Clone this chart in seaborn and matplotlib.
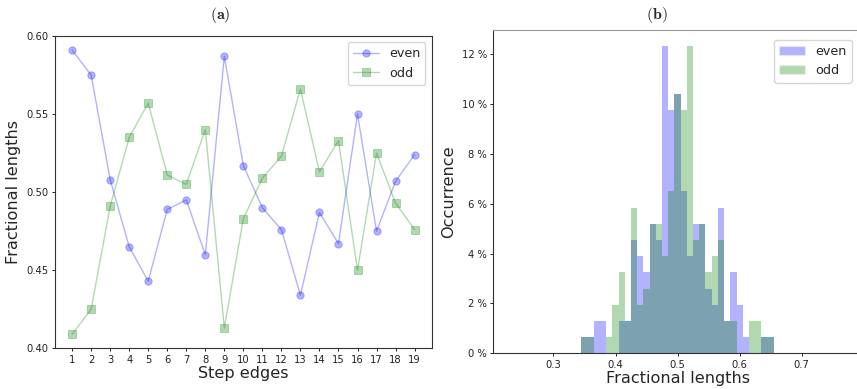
import numpy as np
import matplotlib
matplotlib.use("Agg")
import matplotlib.pyplot as plt
from matplotlib.patches import Patch
from matplotlib.ticker import FuncFormatter
import seaborn as sns

# ---- data ----
step_edges = [1, 2, 3, 4, 5, 6, 7, 8, 9, 10, 11, 12, 13, 14, 15, 16, 17, 18, 19]
even_vals = [0.591, 0.575, 0.508, 0.465, 0.443, 0.489, 0.495, 0.460, 0.587, 0.517,
             0.490, 0.476, 0.434, 0.487, 0.467, 0.550, 0.475, 0.507, 0.524]
odd_vals = [0.409, 0.425, 0.491, 0.535, 0.557, 0.511, 0.505, 0.540, 0.413, 0.483,
            0.509, 0.523, 0.566, 0.513, 0.533, 0.450, 0.525, 0.493, 0.476]

bin_centers = [0.35, 0.36, 0.37, 0.38, 0.39, 0.40, 0.41, 0.42, 0.43, 0.44, 0.45,
               0.46, 0.47, 0.48, 0.49, 0.50, 0.51, 0.52, 0.53, 0.54, 0.55, 0.56,
               0.57, 0.58, 0.59, 0.60, 0.61, 0.62, 0.63, 0.64, 0.65]
even_counts = [1, 1, 2, 2, 0, 0, 2, 2, 7, 6, 5, 8, 7, 19, 15, 16, 10, 6, 8, 8, 4,
               3, 9, 2, 5, 3, 1, 0, 0, 1, 1]
odd_counts = [1, 1, 0, 0, 1, 3, 5, 2, 9, 3, 4, 8, 8, 6, 10, 16, 15, 19, 7, 8, 5,
              6, 7, 2, 2, 0, 0, 2, 2, 1, 1]
bin_width = 0.01

sns.set_style("white")
plt.rcParams["font.family"] = ["DejaVu Sans"]
plt.rcParams["mathtext.fontset"] = "cm"

fig = plt.figure(figsize=(8.57, 3.89), dpi=100)
W, H = 857, 389

def axes_px(l, t, r, b):
    return fig.add_axes([l / W, 1 - b / H, (r - l) / W, (b - t) / H])

tick_fs = 7.2
label_fs = 11.6
legend_fs = 9.2
spine_col = "#333333"

# ---- (a) line plot ----
ax1 = axes_px(55, 36, 431.7, 348.3)
sns.lineplot(x=step_edges, y=even_vals, ax=ax1, color="b", alpha=0.3, marker="o",
             markersize=5.3, mec="b", mew=0.6, lw=1.0, label="even")
sns.lineplot(x=step_edges, y=odd_vals, ax=ax1, color="g", alpha=0.3, marker="s",
             markersize=5.3, mec="g", mew=0.6, lw=1.0, label="odd")
ax1.set_xlim(0.1, 19.9)
ax1.set_ylim(0.40, 0.60)
ax1.set_xticks(step_edges)
ax1.set_yticks([0.40, 0.45, 0.50, 0.55, 0.60])
ax1.yaxis.set_major_formatter(FuncFormatter(lambda v, p: f"{v:.2f}"))
ax1.set_xlabel("Step edges", fontsize=label_fs, labelpad=1)
ax1.set_ylabel("Fractional lengths", fontsize=label_fs, labelpad=4)
ax1.set_title(r"$\mathbf{(a)}$", fontsize=11.5, x=0.438, pad=12)
ax1.legend(loc="upper right", fontsize=legend_fs, frameon=True)

# ---- (b) histogram ----
ax2 = axes_px(493.3, 30.3, 863.7, 353.3)
edges = [c - bin_width / 2 for c in bin_centers] + [bin_centers[-1] + bin_width / 2]
sns.histplot(x=bin_centers, weights=even_counts, bins=edges, stat="percent",
             color="b", alpha=0.3, linewidth=0, ax=ax2)
sns.histplot(x=bin_centers, weights=odd_counts, bins=edges, stat="percent",
             color="g", alpha=0.3, linewidth=0, ax=ax2)
ax2.set_xlim(0.203, 0.80)
ax2.set_ylim(0, 12.95)
ax2.set_xticks([0.3, 0.4, 0.5, 0.6, 0.7])
ax2.set_yticks([0, 2, 4, 6, 8, 10, 12])
ax2.yaxis.set_major_formatter(FuncFormatter(lambda v, p: f"{v:.0f} %"))
ax2.xaxis.set_major_formatter(FuncFormatter(lambda v, p: f"{v:.1f}"))
ax2.set_xlabel("Fractional lengths", fontsize=label_fs, labelpad=1)
ax2.set_ylabel("Occurrence", fontsize=label_fs, labelpad=4)
ax2.set_title(r"$\mathbf{(b)}$", fontsize=11.5, x=0.441, pad=8)
handles = [Patch(facecolor="b", alpha=0.3, label="even"),
           Patch(facecolor="g", alpha=0.3, label="odd")]
ax2.legend(handles=handles, loc="upper right", fontsize=legend_fs, frameon=True,
           bbox_to_anchor=(0.985, 0.99))

for ax in (ax1, ax2):
    ax.tick_params(axis="both", labelsize=tick_fs, length=2.5, width=0.7,
                   bottom=True, left=True, pad=2, colors="#222222")
    for s in ax.spines.values():
        s.set_color(spine_col)
        s.set_linewidth(0.8)
ax2.spines["top"].set_color("#999999")

fig.savefig("out.png", dpi=100)
